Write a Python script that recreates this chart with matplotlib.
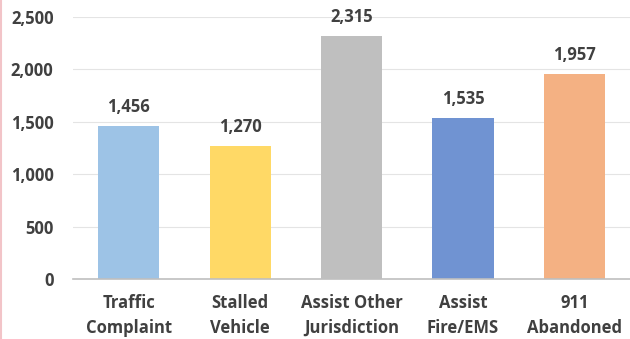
import matplotlib.pyplot as plt
from matplotlib.ticker import FuncFormatter
from matplotlib.lines import Line2D

# --- DATA ---
categories = ["Traffic\nComplaint", "Stalled\nVehicle", "Assist Other\nJurisdiction",
              "Assist\nFire/EMS", "911\nAbandoned"]
values = [1456, 1270, 2315, 1535, 1957]
colors = ["#9DC3E6", "#FFD966", "#BFBFBF", "#7093D2", "#F4B183"]
yticks = [0, 500, 1000, 1500, 2000, 2500]

plt.rcParams['font.family'] = ['Open Sans', 'DejaVu Sans']
txt = "#404040"

fig = plt.figure(figsize=(6.3, 3.39), dpi=100)
ax = fig.add_axes([0.116, 0.177, 0.884, 0.774])

x = range(len(values))
bars = ax.bar(x, values, width=0.55, color=colors, zorder=3)
for b, v in zip(bars, values):
    ax.text(b.get_x() + b.get_width() / 2, v + 95, f"{v:,}", ha="center", va="bottom",
            fontsize=12, fontweight="bold", color=txt)

ax.set_xlim(-0.5, len(values) - 0.5)
ax.set_ylim(0, 2500)
ax.set_yticks(yticks)
ax.yaxis.set_major_formatter(FuncFormatter(lambda v, p: f"{int(v):,}"))
ax.set_xticks(list(x))
ax.set_xticklabels(categories, linespacing=1.45)
ax.tick_params(axis="both", length=0, labelsize=12, colors=txt)
ax.tick_params(axis="y", pad=14)
ax.tick_params(axis="x", pad=11)
for lab in ax.get_xticklabels() + ax.get_yticklabels():
    lab.set_fontweight("bold")
ax.grid(axis="y", color="#E4E4E4", linewidth=0.8, zorder=0)
for s in ["top", "right", "left"]:
    ax.spines[s].set_visible(False)
ax.spines["bottom"].set_color("#BFBFBF")
ax.spines["bottom"].set_linewidth(1.2)
ax.spines["bottom"].set_zorder(4)

# pink border on the left edge
fig.add_artist(Line2D([0.001, 0.001], [0, 1], transform=fig.transFigure,
                      color="#F2C4C8", linewidth=1.5))

fig.savefig("out.png", dpi=100)
